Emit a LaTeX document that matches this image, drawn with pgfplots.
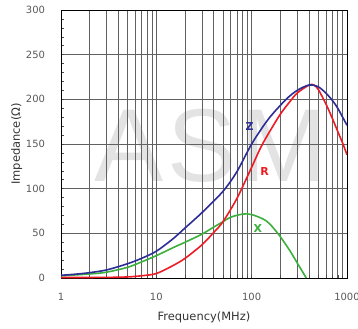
\documentclass[border=0pt]{standalone}
\usepackage{fontspec}
\setmainfont{DejaVu Sans}
\newfontfamily\wmfont{Liberation Sans}
\usepackage{pgfplots}
\pgfplotsset{compat=1.18}
\definecolor{zcol}{RGB}{45,45,150}
\definecolor{rcol}{RGB}{237,28,36}
\definecolor{xcol}{RGB}{60,175,60}
\begin{document}
\begin{tikzpicture}
\node[text=black!11, font=\wmfont\fontsize{104}{104}\selectfont, inner sep=0pt] at (150bp,132bp) {A\kern4bp S\kern4bp M};
\begin{axis}[
  at={(0,0)}, anchor=south west,
  width=286bp, height=268bp, scale only axis,
  xmode=log, log basis x=10,
  xmin=1, xmax=1000, ymin=0, ymax=300,
  xtick={1,10,100,1000}, xticklabels={1,10,100,1000},
  minor xtick={2,3,4,5,6,7,8,9,20,30,40,50,60,70,80,90,200,300,400,500,600,700,800,900},
  ytick={0,50,100,150,200,250,300},
  minor y tick num=4,
  xmajorgrids, xminorgrids, ymajorgrids,
  grid style={black!62, line width=0.55bp},
  minor grid style={black!62, line width=0.55bp},
  axis line style={black, line width=0.7bp},
  tick align=inside, tick pos=left,
  major tick length=3bp, minor tick length=3bp,
  tick style={black!70, line width=0.5bp},
  /pgf/number format/assume math mode=true,
  tick label style={font=\fontsize{10}{12}\selectfont, text=black!65},
  yticklabel style={xshift=-12.5bp},
  xticklabel style={yshift=-11.5bp},
  xlabel={Frequency(MHz)}, ylabel={Impedance(Ω)},
  label style={font=\fontsize{11.5}{13}\selectfont, text=black!80},
  xlabel style={at={(axis description cs:0.5,-0.1586)}, anchor=base},
  ylabel style={at={(axis description cs:-0.1434,0.5)}, anchor=base},
]
\addplot[xcol, line width=1.6bp, smooth] coordinates {(1,2.5) (2,4.5) (3,6.5) (5,12) (7,18) (10,25) (15,34) (20,40) (30,49) (40,57) (50,63) (60,68) (80,71.5) (100,71) (142,64) (188,50) (250,31) (300,17) (374,0)};
\addplot[rcol, line width=1.6bp, smooth] coordinates {(1,0.5) (3,0.7) (5,1.2) (7,2.5) (10,5) (15,14) (20,22) (30,37) (40,51) (50,63) (70,89) (100,124) (130,150) (196,182) (250,197) (300,207) (400,216) (450,216) (500,211) (600,195) (700,179) (800,164) (900,151) (1000,138)};
\addplot[zcol, line width=1.6bp, smooth] coordinates {(1,3) (1.5,4.5) (2,6) (3,9) (5,16) (7,22) (10,30) (15,44) (20,56) (30,73) (50,97) (70,119) (100,150) (150,178) (230,200) (300,210) (400,216) (500,214) (600,207) (700,199) (800,190) (900,180) (1000,171)};
\node[text=zcol, font=\bfseries\fontsize{11}{13}\selectfont] at (axis cs:95,170) {Z};
\node[text=rcol, font=\bfseries\fontsize{11}{13}\selectfont] at (axis cs:137,119) {R};
\node[text=xcol, font=\bfseries\fontsize{11}{13}\selectfont] at (axis cs:116,55) {X};
\end{axis}
\pgfresetboundingbox
\path[use as bounding box] (-61bp,-51bp) rectangle (297bp,278bp);
\end{tikzpicture}
\end{document}
